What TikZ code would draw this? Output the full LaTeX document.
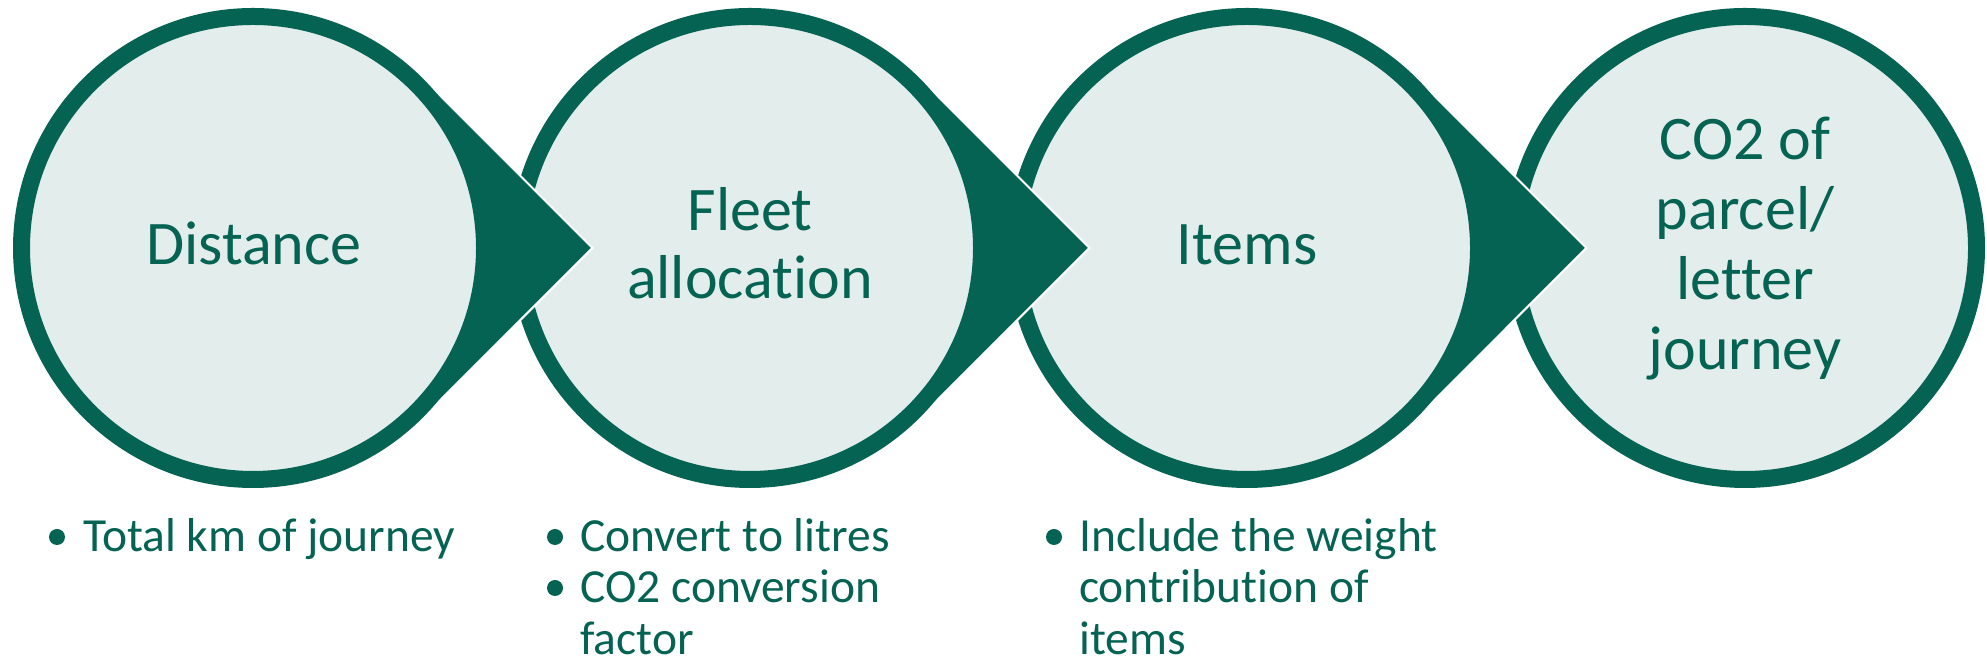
\documentclass[tikz,border=0pt]{standalone}
\usepackage{fontspec}
\setmainfont{Carlito}[Ligatures=NoCommon]
\usetikzlibrary{calc}
\definecolor{dgreen}{RGB}{5,99,83}
\definecolor{lgreen}{RGB}{227,237,236}
\tikzset{
  stage/.style={circle, fill=lgreen, draw=dgreen, line width=17pt, minimum size=463pt, inner sep=0pt},
  chevron/.style={fill=dgreen, draw=white, line width=2pt, line join=miter},
  title/.style={text=dgreen, font=\fontsize{62}{70}\selectfont, anchor=base, inner sep=0pt},
  bul/.style={text=dgreen, font=\fontsize{47.5}{52}\selectfont, anchor=base west, inner sep=0pt},
  dot/.style={circle, fill=dgreen, minimum size=16pt, inner sep=0pt},
}
\begin{document}
\begin{tikzpicture}[x=1pt,y=1pt]
\useasboundingbox (0,0) rectangle (1987,671);
\coordinate (p1) at (253,423);
\coordinate (p2) at (750,423);
\coordinate (p3) at (1247,423);
\coordinate (p4) at (1745,423);
% stage 4
\node[stage] (c4) at (p4) {};
% stage 3 with chevron into stage 4
\filldraw[chevron] ($(p3)+(339.4,0)$) -- ($(p3)+(169.7,169.7)$) arc[start angle=45,end angle=315,radius=240] -- cycle;
\node[stage] (c3) at (p3) {};
% stage 2 with chevron into stage 3
\filldraw[chevron] ($(p2)+(339.4,0)$) -- ($(p2)+(169.7,169.7)$) arc[start angle=45,end angle=315,radius=240] -- cycle;
\node[stage] (c2) at (p2) {};
% stage 1 with chevron into stage 2
\filldraw[chevron] ($(p1)+(339.4,0)$) -- ($(p1)+(169.7,169.7)$) arc[start angle=45,end angle=315,radius=240] -- cycle;
\node[stage] (c1) at (p1) {};
% titles
\node[title] (t1) at (254,406) {Distance};
\node[title] (t2a) at (750,440) {Fleet};
\node[title] (t2b) at (750,372) {allocation};
\node[title] (t3) at (1247,406) {Items};
\node[title] (t4a) at (1745,511) {CO2 of};
\node[title] (t4b) at (1745,441) {parcel/};
\node[title] (t4c) at (1745,371) {letter};
\node[title] (t4d) at (1745,301) {journey};
% bullets
\node[dot] (b1) at (57,134) {};
\node[bul] (l1) at (83,119) {Total km of journey};
\node[dot] (b2) at (555,134) {};
\node[bul] (l2a) at (580,119) {Convert to litres};
\node[dot] (b3) at (555,83) {};
\node[bul] (l2b) at (580,68) {CO2 conversion};
\node[bul] (l2c) at (580,16) {factor};
\node[dot] (b4) at (1054,134) {};
\node[bul] (l3a) at (1079,119) {Include the weight};
\node[bul] (l3b) at (1079,68) {contribution of};
\node[bul] (l3c) at (1079,16) {items};
\end{tikzpicture}
\end{document}
